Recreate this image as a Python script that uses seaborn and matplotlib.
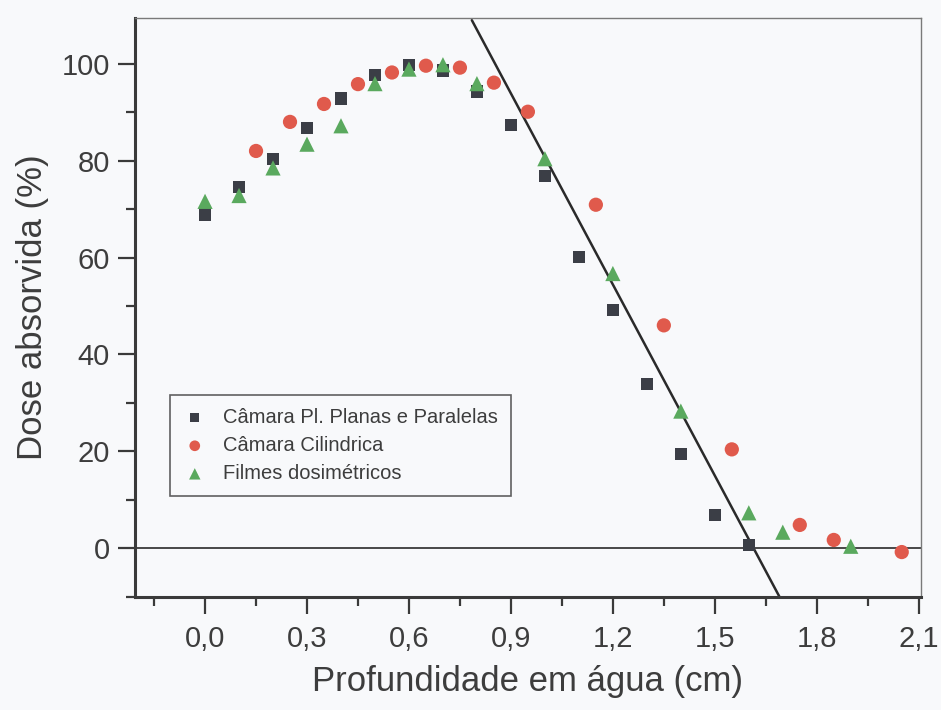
import matplotlib
matplotlib.use("Agg")
import matplotlib.pyplot as plt
import seaborn as sns
import pandas as pd
from matplotlib.ticker import MultipleLocator, FuncFormatter

# dados
x_placas = [0.0, 0.1, 0.2, 0.3, 0.4, 0.5, 0.6, 0.7, 0.8, 0.9, 1.0, 1.1, 1.2, 1.3, 1.4, 1.5, 1.6]
y_placas = [68.9, 74.6, 80.3, 86.8, 92.8, 97.7, 99.7, 98.6, 94.3, 87.4, 76.8, 60.1, 49.2, 33.9, 19.4, 6.8, 0.6]

x_cilindrica = [0.15, 0.25, 0.35, 0.45, 0.55, 0.65, 0.75, 0.85, 0.95, 1.15, 1.35, 1.55, 1.75, 1.85, 2.05]
y_cilindrica = [82.0, 88.0, 91.7, 95.8, 98.2, 99.6, 99.2, 96.1, 90.1, 70.9, 46.0, 20.4, 4.8, 1.7, -0.8]

x_filmes = [0.0, 0.1, 0.2, 0.3, 0.4, 0.5, 0.6, 0.7, 0.8, 1.0, 1.2, 1.4, 1.6, 1.7, 1.9]
y_filmes = [71.6, 72.8, 78.5, 83.4, 87.2, 95.9, 98.9, 99.8, 95.9, 80.4, 56.7, 28.3, 7.3, 3.3, 0.4]

# reta de ajuste (extremos lidos)
x_reta = [0.785, 1.69]
y_reta = [109, -10]

cor_texto = "#3d3d3d"

sns.set_theme(style="white")
plt.rcParams['font.family'] = ['Liberation Sans', 'DejaVu Sans']

fig = plt.figure(figsize=(9.41, 7.10), dpi=100, facecolor="#f8f9fb")
ax = fig.add_axes([0.1435, 0.159, 0.835, 0.816])
ax.set_facecolor("#f8f9fb")

df_reta = pd.DataFrame({"x": x_reta, "y": y_reta})
sns.lineplot(data=df_reta, x="x", y="y", color="#2a2a2a", lw=1.8, sort=False, ax=ax)
ax.axhline(0, color="#3a3a3a", lw=1.3, zorder=1)

sns.scatterplot(x=x_placas, y=y_placas, marker="s", s=80, color="#3b3e46",
                edgecolor="none", label="Câmara Pl. Planas e Paralelas", ax=ax, zorder=3)
sns.scatterplot(x=x_cilindrica, y=y_cilindrica, marker="o", s=105, color="#e05a4c",
                edgecolor="none", label="Câmara Cilindrica", ax=ax, zorder=3)
sns.scatterplot(x=x_filmes, y=y_filmes, marker="^", s=120, color="#5aa95e",
                edgecolor="none", label="Filmes dosimétricos", ax=ax, zorder=3)

ax.set_xlim(-0.206, 2.106)
ax.set_ylim(-10.1, 109.5)
ax.xaxis.set_major_locator(MultipleLocator(0.3))
ax.xaxis.set_minor_locator(MultipleLocator(0.15))
ax.yaxis.set_major_locator(MultipleLocator(20))
ax.yaxis.set_minor_locator(MultipleLocator(10))
ax.xaxis.set_major_formatter(FuncFormatter(lambda v, p: f"{v:.1f}".replace(".", ",").replace("-0,0", "0,0")))
ax.yaxis.set_major_formatter(FuncFormatter(lambda v, p: f"{v:.0f}"))

ax.tick_params(axis="both", which="major", direction="out", length=12, width=1.6,
               labelsize=21, colors="#3a3a3a", labelcolor=cor_texto)
ax.tick_params(axis="y", which="major", pad=6)
ax.tick_params(axis="x", which="major", pad=8)
ax.tick_params(axis="both", which="minor", direction="out", length=6.5, width=1.6, colors="#3a3a3a")
ax.tick_params(bottom=True, left=True, which="both")

for lado in ["left", "bottom"]:
    ax.spines[lado].set_linewidth(2.2)
    ax.spines[lado].set_color("#3a3a3a")
for lado in ["top", "right"]:
    ax.spines[lado].set_linewidth(1.0)
    ax.spines[lado].set_color("#7a7a7a")

ax.set_xlabel("Profundidade em água (cm)", fontsize=25, color=cor_texto, labelpad=9)
ax.set_ylabel("Dose absorvida (%)", fontsize=25, color=cor_texto, labelpad=9)

leg = ax.legend(loc="upper left", bbox_to_anchor=(0.044, 0.349), borderaxespad=0,
                fontsize=14.5, frameon=True, fancybox=False, handletextpad=0.8,
                handlelength=1.2, borderpad=0.65, labelspacing=0.45, markerscale=0.75)
leg.get_frame().set_edgecolor("#3a3a3a")
leg.get_frame().set_linewidth(1.2)
leg.get_frame().set_facecolor("#f8f9fb")
for t in leg.get_texts():
    t.set_color(cor_texto)

fig.savefig("out.png", dpi=100, facecolor=fig.get_facecolor())
